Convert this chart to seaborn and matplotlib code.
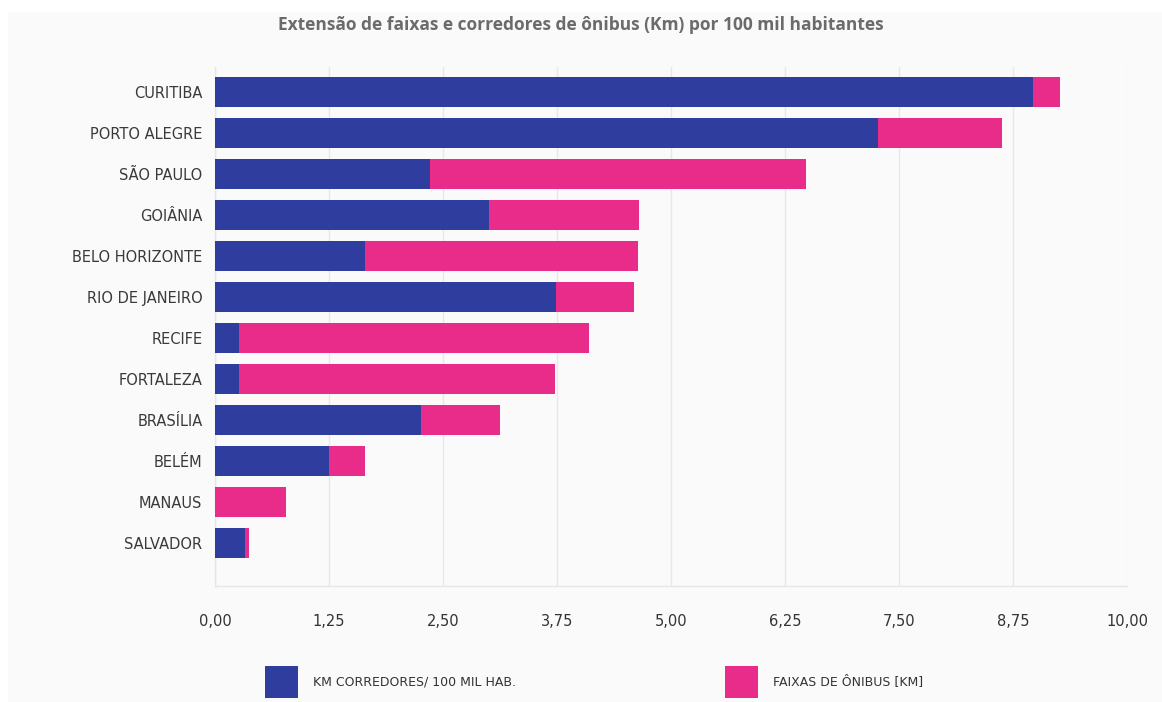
import matplotlib
matplotlib.use("Agg")
import matplotlib.pyplot as plt
from matplotlib.patches import Patch, Rectangle
import seaborn as sns
import pandas as pd

# Data: km of bus corridors and bus lanes per 100k inhabitants
cidades = ["CURITIBA", "PORTO ALEGRE", "SÃO PAULO", "GOIÂNIA", "BELO HORIZONTE",
           "RIO DE JANEIRO", "RECIFE", "FORTALEZA", "BRASÍLIA", "BELÉM",
           "MANAUS", "SALVADOR"]
corredores = [8.97, 7.27, 2.36, 3.00, 1.65, 3.74, 0.26, 0.26, 2.26, 1.25, 0.00, 0.33]
faixas = [0.30, 1.36, 4.12, 1.65, 2.99, 0.85, 3.84, 3.47, 0.87, 0.40, 0.78, 0.04]
ticks = [0, 1.25, 2.5, 3.75, 5, 6.25, 7.5, 8.75, 10]
tick_labels = ["0,00", "1,25", "2,50", "3,75", "5,00", "6,25", "7,50", "8,75", "10,00"]

nome_corredores = "KM CORREDORES/ 100 MIL HAB."
nome_faixas = "FAIXAS DE ÔNIBUS [KM]"
titulo = "Extensão de faixas e corredores de ônibus (Km) por 100 mil habitantes"

AZUL = "#2f3e9e"
ROSA = "#e92b8a"
FUNDO = "#fafafa"

df = pd.DataFrame({"cidade": cidades, "corredores": corredores, "faixas": faixas})
df["total"] = df["corredores"] + df["faixas"]

sns.set_theme(style="white")
plt.rcParams["font.family"] = ["DejaVu Sans"]

fig = plt.figure(figsize=(11.62, 7.02), dpi=100, facecolor="white")
# light panel behind the whole chart
fig.patches.append(Rectangle((8 / 1162, 0), 1 - 8 / 1162, 1 - 12 / 702,
                             transform=fig.transFigure, facecolor=FUNDO,
                             edgecolor="none", zorder=-5))

ax = fig.add_axes([215 / 1162, 116 / 702, 912 / 1162, 519 / 702])
ax.set_facecolor(FUNDO)

# stacked bars: total (lanes on top) first, corridors drawn over it
sns.barplot(data=df, x="total", y="cidade", color=ROSA, width=0.73,
            orient="h", ax=ax, saturation=1, zorder=3, linewidth=0,
            edgecolor="none")
sns.barplot(data=df, x="corredores", y="cidade", color=AZUL, width=0.73,
            orient="h", ax=ax, saturation=1, zorder=4, linewidth=0,
            edgecolor="none")

ax.set_xlim(0, 10)
ax.set_ylim(12.05, -0.62)
ax.set_xticks(ticks)
ax.set_xticklabels(tick_labels)
ax.set_xlabel("")
ax.set_ylabel("")
ax.grid(axis="x", color="#e8e8e8", linewidth=1, zorder=0)
ax.set_axisbelow(True)
for s in ["top", "right"]:
    ax.spines[s].set_visible(False)
for s in ["left", "bottom"]:
    ax.spines[s].set_color("#e6e6e6")
    ax.spines[s].set_linewidth(1)
ax.tick_params(axis="x", length=0, pad=20, labelsize=10.5, labelcolor="#333333")
ax.tick_params(axis="y", length=0, pad=9, labelsize=10.5, labelcolor="#3a3a3a")

fig.text(581 / 1162, 1 - 25 / 702, titulo, ha="center", va="center",
         fontsize=12.5, fontweight="bold", color="#6b6b6b", family="Open Sans")

# legend entries at the bottom
for cor, nome, x0 in [(AZUL, nome_corredores, 259), (ROSA, nome_faixas, 719)]:
    fig.legend(handles=[Patch(facecolor=cor, edgecolor="none", label=nome)],
               loc="center left", bbox_to_anchor=(x0 / 1162, 1 - 682 / 702),
               frameon=False, fontsize=9, handlelength=2.6, handleheight=3.5,
               handletextpad=1.2, borderpad=0, labelcolor="#333333")

fig.savefig("out.png", dpi=100, facecolor="white")
